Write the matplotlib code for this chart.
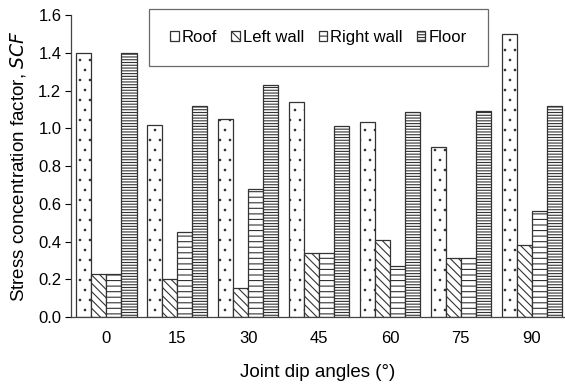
import numpy as np
import matplotlib.pyplot as plt
import matplotlib.hatch as mhatch

plt.rcParams['font.family'] = ['Liberation Sans', 'DejaVu Sans']
plt.rcParams['hatch.linewidth'] = 0.8
plt.rcParams['hatch.color'] = '#222222'


# sparser, smaller dots than the stock '.' hatch (row count must stay even)
class SparseDots(mhatch.Circles):
    size = 0.075
    filled = True

    def __init__(self, hatch, density):
        self.num_rows = hatch.count('.') * 5
        super().__init__(hatch, density)


mhatch._hatch_types = [SparseDots if t is mhatch.SmallFilledCircles else t
                       for t in mhatch._hatch_types]

angles = ['0', '15', '30', '45', '60', '75', '90']
roof = [1.40, 1.02, 1.05, 1.14, 1.035, 0.90, 1.50]
left_wall = [0.23, 0.20, 0.155, 0.34, 0.41, 0.31, 0.38]
right_wall = [0.23, 0.45, 0.68, 0.34, 0.27, 0.31, 0.56]
floor = [1.40, 1.12, 1.23, 1.01, 1.085, 1.09, 1.12]

series = [
    ('Roof', roof, '..'),
    ('Left wall', left_wall, '\\\\\\\\'),
    ('Right wall', right_wall, '---'),
    ('Floor', floor, '------'),
]

fig = plt.figure(figsize=(5.65, 3.86), dpi=100)
ax = fig.add_axes([0.1257, 0.1788, 0.8743, 0.782])

x = np.arange(len(angles))
w = 0.212
for i, (name, vals, hatch) in enumerate(series):
    ax.bar(x + (i - 1.5) * w, vals, w, facecolor='white', edgecolor='#333333',
           linewidth=0.9, hatch=hatch, label=name)

ax.set_xlim(-0.5, 6.47)
ax.set_ylim(0, 1.6)
yt = np.arange(0, 1.61, 0.2)
ax.set_yticks(yt)
ax.set_yticklabels([f'{v:.1f}' for v in yt])
ax.set_xticks(x)
ax.set_xticklabels(angles)
ax.tick_params(axis='x', length=0, pad=10, labelsize=12)
ax.tick_params(axis='y', length=4, width=0.8, direction='out', labelsize=12, pad=3)

for side in ['top', 'right']:
    ax.spines[side].set_visible(False)
for side in ['left', 'bottom']:
    ax.spines[side].set_color('#444444')
    ax.spines[side].set_linewidth(0.9)

ax.set_xlabel('Joint dip angles (°)', fontsize=13.5, labelpad=13)
ax.set_ylabel('Stress concentration factor, $\\mathit{SCF}$', fontsize=13.5, labelpad=7)

leg = ax.legend(loc='upper center', bbox_to_anchor=(0.501, 1.02), ncol=4,
                fontsize=12, frameon=True, fancybox=False, shadow=False,
                handlelength=0.5, handleheight=0.5, handletextpad=0.2,
                columnspacing=0.85, borderpad=1.25, borderaxespad=0)
leg.get_frame().set_edgecolor('#444444')
leg.get_frame().set_linewidth(0.9)

fig.savefig('out.png', dpi=100)
